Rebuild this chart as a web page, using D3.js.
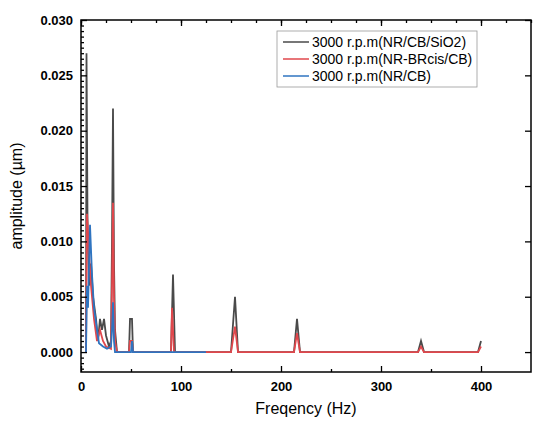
<!DOCTYPE html>
<html><head><meta charset="UTF-8">
<script src="https://d3js.org/d3.v7.min.js"></script>
<style>body{margin:0;background:#fff;font-family:Arial,"Liberation Sans",sans-serif}</style>
</head><body><svg id="c" width="541" height="448"></svg>
<script>
// frequency (Hz) / amplitude (µm) pairs
const blackF = [5,5.5,6.5,7,8,10,12,15,17,19,21,23,25,28,30,31,32,33,34,36,48,49,51,52,90,92,94,150,154,157,213,216,219,337,340,343,397,400];
const blackA = [0,0.027,0.012,0.01,0.006,0.008,0.005,0.003,0.001,0.003,0.002,0.003,0.0015,0.0005,0.001,0.01,0.022,0.008,0.002,0,0,0.003,0.003,0,0,0.007,0,0,0.005,0,0,0.003,0,0,0.001,0,0,0.001];
const redF = [5,6,8,10,13,16,19,22,25,30,31,32,33,34,36,48,49,51,52,90,91,93,150,154,157,213,216,219,337,340,343,397,400];
const redA = [0,0.0125,0.009,0.006,0.003,0.001,0.002,0.001,0.0005,0.0003,0.006,0.0135,0.005,0.001,0,0,0.001,0.001,0,0,0.004,0,0,0.0023,0,0,0.0017,0,0,0.0005,0,0,0.0005];
const blueF = [5,6,7,9,11,13,16,18,22,26,30,31,32,33,34,50,51,52,125];
const blueA = [0,0.006,0.004,0.0115,0.007,0.004,0.002,0.0008,0.0005,0.0003,0.0005,0.002,0.0045,0.001,0,0,0.001,0,0];
const names = ["3000 r.p.m(NR/CB/SiO2)","3000 r.p.m(NR-BRcis/CB)","3000 r.p.m(NR/CB)"];
const colors = ["#4a4a4a","#e0474c","#2f74c0"];
const xTicks = [0,100,200,300,400];
const yTicks = [0,0.005,0.010,0.015,0.020,0.025,0.030];

const svg = d3.select("#c");
const L=81,R=531,T=20,B=372;
const x = d3.scaleLinear().domain([0,450]).range([L,R]);
const y = d3.scaleLinear().domain([-0.0018,0.030]).range([B,T]);
const series = [[blackF,blackA],[redF,redA],[blueF,blueA]];
const line = d3.line().x(d=>x(d[0])).y(d=>y(d[1]));
series.forEach((s,i)=>{
  svg.append("path").datum(s[0].map((f,j)=>[f,s[1][j]]))
    .attr("d",line).attr("fill","none").attr("stroke",colors[i]).attr("stroke-width",1.8);
});
svg.append("rect").attr("x",L).attr("y",T).attr("width",R-L).attr("height",B-T)
  .attr("fill","none").attr("stroke","#000").attr("stroke-width",1.5);
svg.append("g").attr("transform",`translate(0,${B})`)
  .call(d3.axisBottom(x).tickValues(xTicks).tickSize(-6).tickPadding(10));
svg.append("g").attr("transform",`translate(0,${B})`)
  .call(d3.axisBottom(x).tickValues(d3.range(50,450,100)).tickSize(-3).tickFormat(""));
svg.append("g").attr("transform",`translate(0,${T})`)
  .call(d3.axisTop(x).tickValues(xTicks).tickSize(-6).tickFormat(""));
svg.append("g").attr("transform",`translate(0,${T})`)
  .call(d3.axisTop(x).tickValues(d3.range(0,451,25)).tickSize(-3).tickFormat(""));
svg.append("g").attr("transform",`translate(${L},0)`)
  .call(d3.axisLeft(y).tickValues(yTicks).tickSize(-6).tickPadding(8).tickFormat(d3.format(".3f")));
svg.append("g").attr("transform",`translate(${L},0)`)
  .call(d3.axisLeft(y).tickValues(d3.range(-0.0015,0.0301,0.0005).filter(v=>Math.abs(v/0.005-Math.round(v/0.005))>1e-6)).tickSize(-3).tickFormat(""));
svg.append("g").attr("transform",`translate(${R},0)`)
  .call(d3.axisRight(y).tickValues(yTicks).tickSize(-6).tickFormat(""));
svg.selectAll(".domain").remove();
svg.selectAll(".tick line").attr("stroke","#000").attr("stroke-width",1.3);
svg.selectAll(".tick text").attr("font-size",13).attr("font-weight","bold").attr("fill","#000").attr("font-family","Arial");
svg.append("text").attr("x",(L+R)/2).attr("y",414).attr("text-anchor","middle").attr("font-size",16).text("Freqency (Hz)");
svg.append("text").attr("transform",`translate(22,${(T+B)/2}) rotate(-90)`).attr("text-anchor","middle").attr("font-size",16).text("amplitude  (µm)");
const lg = svg.append("g").attr("transform","translate(277,31)");
lg.append("rect").attr("width",200).attr("height",56).attr("fill","#fff").attr("stroke","#999").attr("stroke-width",0.8);
names.forEach((n,i)=>{
  const g=lg.append("g").attr("transform",`translate(0,${11+i*17})`);
  g.append("line").attr("x1",6).attr("x2",32).attr("stroke",colors[i]).attr("stroke-width",1.5);
  g.append("text").attr("x",35).attr("y",5).attr("font-size",14).text(n);
});
</script></body></html>
